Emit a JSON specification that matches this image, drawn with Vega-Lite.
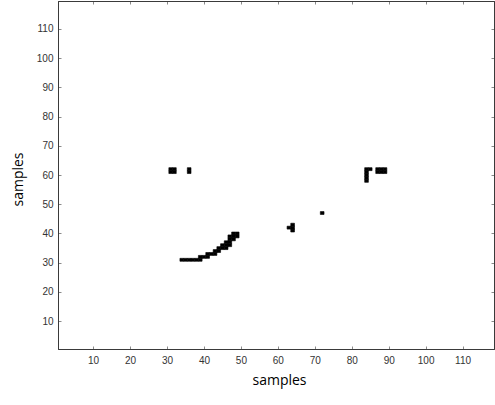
{
  "$schema": "https://vega.github.io/schema/vega-lite/v6.json",
  "autosize": {"type": "none"},
  "padding": {"left": 58, "top": 1, "right": 1, "bottom": 56},
  "width": 436,
  "height": 348,
  "background": "white",
  "config": {
    "view": {"stroke": "#3a3a3a", "strokeWidth": 1},
    "axis": {
      "grid": false,
      "domainColor": "#3a3a3a",
      "tickColor": "#8a8a8a",
      "tickSize": -3,
      "labelFont": "Liberation Sans",
      "labelFontSize": 10,
      "labelColor": "#333333",
      "titleFont": "Open Sans",
      "titleFontSize": 14,
      "titleFontWeight": "normal",
      "titleColor": "#000000"
    }
  },
  "data": {
    "values": [
      {"c": 31, "r": 61}, {"c": 32, "r": 61}, {"c": 31, "r": 62}, {"c": 32, "r": 62},
      {"c": 36, "r": 61}, {"c": 36, "r": 62},
      {"c": 34, "r": 31}, {"c": 35, "r": 31}, {"c": 36, "r": 31}, {"c": 37, "r": 31}, {"c": 38, "r": 31}, {"c": 39, "r": 31},
      {"c": 39, "r": 32}, {"c": 40, "r": 32}, {"c": 41, "r": 32},
      {"c": 41, "r": 33}, {"c": 42, "r": 33}, {"c": 43, "r": 33},
      {"c": 43, "r": 34}, {"c": 44, "r": 34},
      {"c": 44, "r": 35}, {"c": 45, "r": 35}, {"c": 46, "r": 35},
      {"c": 45, "r": 36}, {"c": 46, "r": 36}, {"c": 47, "r": 36},
      {"c": 46, "r": 37}, {"c": 47, "r": 37},
      {"c": 47, "r": 38}, {"c": 48, "r": 38},
      {"c": 47, "r": 39}, {"c": 48, "r": 39}, {"c": 49, "r": 39},
      {"c": 48, "r": 40}, {"c": 49, "r": 40},
      {"c": 64, "r": 41}, {"c": 64, "r": 42}, {"c": 64, "r": 43}, {"c": 63, "r": 42},
      {"c": 72, "r": 47},
      {"c": 84, "r": 58}, {"c": 84, "r": 59}, {"c": 84, "r": 60}, {"c": 84, "r": 61}, {"c": 84, "r": 62},
      {"c": 85, "r": 62},
      {"c": 87, "r": 61}, {"c": 88, "r": 61}, {"c": 89, "r": 61},
      {"c": 87, "r": 62}, {"c": 88, "r": 62}, {"c": 89, "r": 62}
    ]
  },
  "layer": [
    {
      "mark": {"type": "rect", "width": 3.7, "height": 2.93, "color": "#000000", "stroke": "#000000", "strokeWidth": 0.6},
      "encoding": {
        "x": {"field": "c", "type": "quantitative", "scale": {"domain": [0.5, 118.5], "nice": false, "zero": false},
              "axis": {"orient": "bottom", "values": [10,20,30,40,50,60,70,80,90,100,110], "labelPadding": 9, "title": "samples", "titleBaseline": "middle", "titleY": 31, "titleX": 221}},
        "y": {"field": "r", "type": "quantitative", "scale": {"domain": [0.5, 119.5], "nice": false, "zero": false},
              "axis": {"orient": "left", "values": [10,20,30,40,50,60,70,80,90,100,110], "labelPadding": 8, "title": "samples", "titleAngle": -90, "titleBaseline": "middle", "titleX": -40, "titleY": 178}}
      }
    },
    {
      "mark": {"type": "rect", "width": 3.7, "height": 2.93, "opacity": 0},
      "encoding": {
        "x": {"field": "c", "type": "quantitative", "scale": {"domain": [0.5, 118.5], "nice": false, "zero": false},
              "axis": {"orient": "top", "values": [10,20,30,40,50,60,70,80,90,100,110], "labels": false, "title": null}},
        "y": {"field": "r", "type": "quantitative", "scale": {"domain": [0.5, 119.5], "nice": false, "zero": false},
              "axis": {"orient": "right", "values": [10,20,30,40,50,60,70,80,90,100,110], "labels": false, "title": null}}
      }
    }
  ],
  "resolve": {"axis": {"x": "independent", "y": "independent"}}
}
